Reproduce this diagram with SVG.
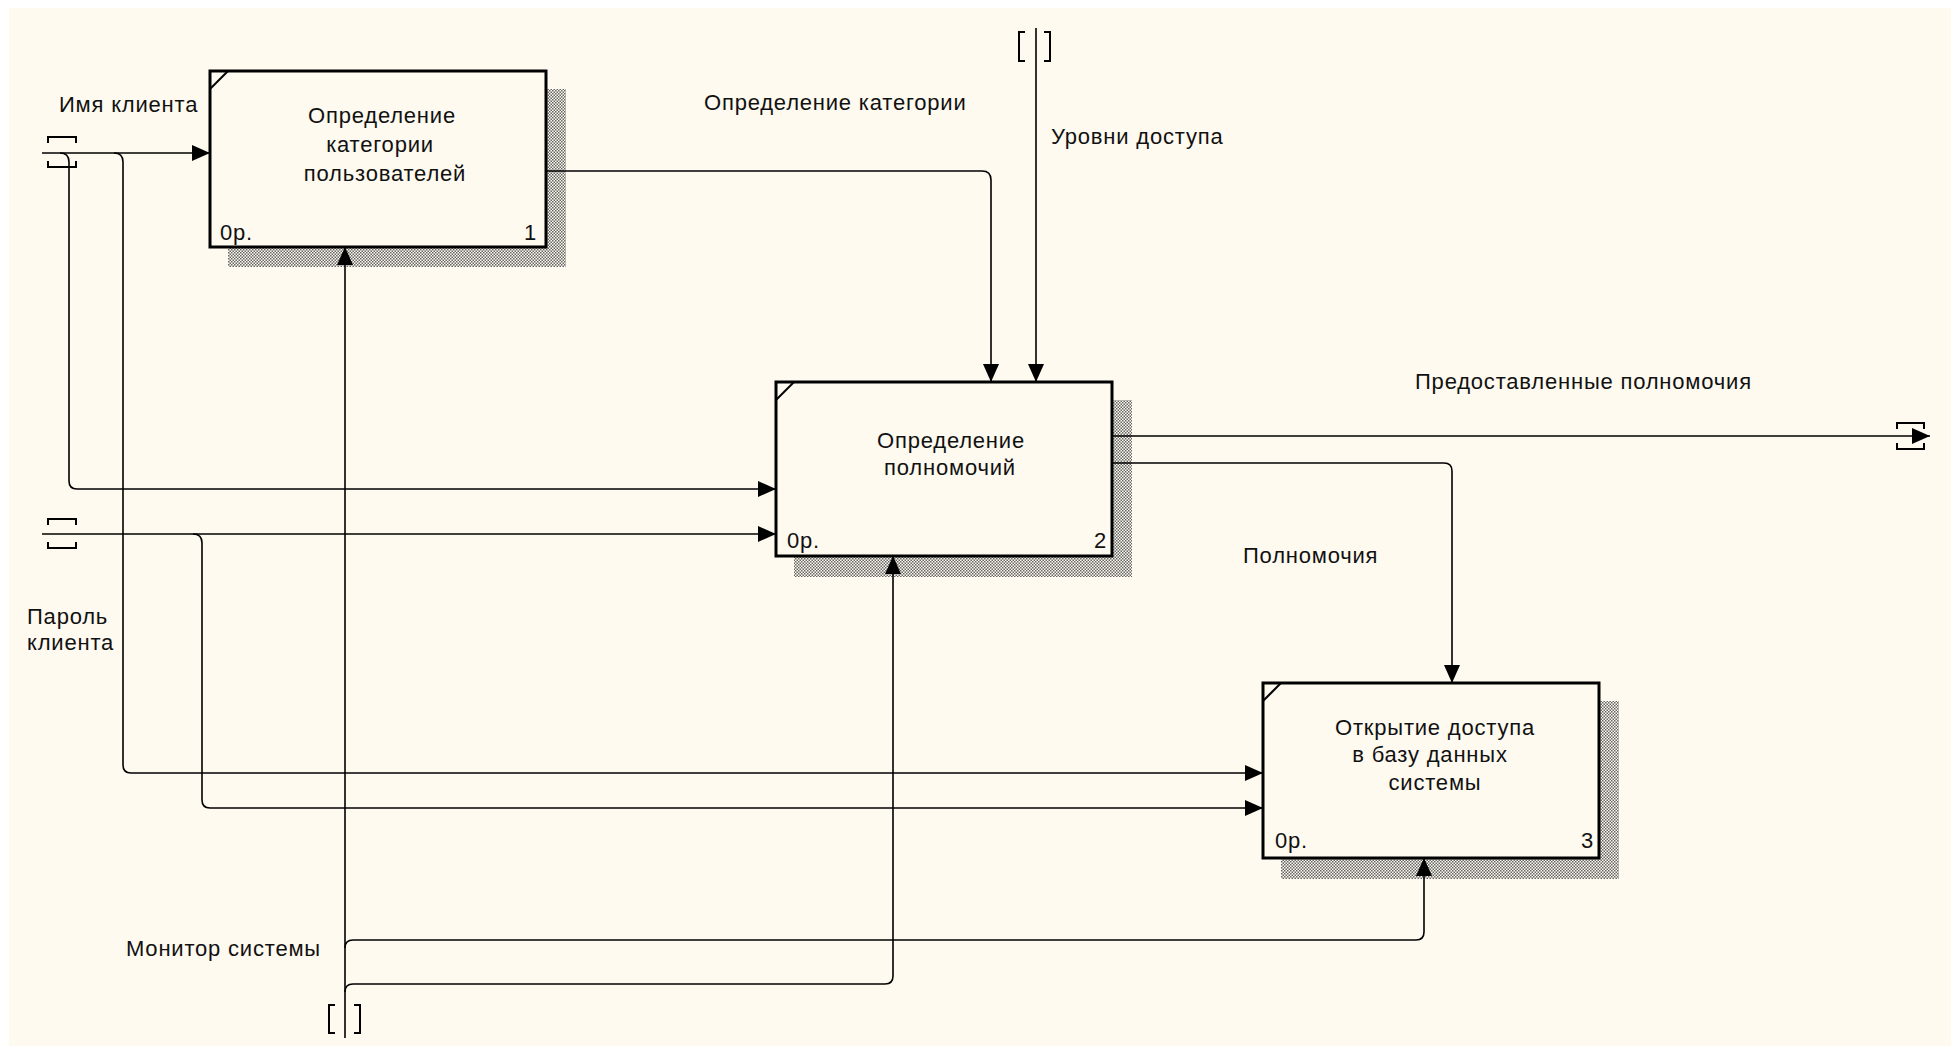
<svg xmlns="http://www.w3.org/2000/svg" width="1959" height="1046" viewBox="0 0 1959 1046">
<style>
.lbl{font-family:"Liberation Sans",Arial,sans-serif;font-size:22px;letter-spacing:0.8px;fill:#111}
.box{fill:#FEFAF0;stroke:#000;stroke-width:3}
.shadow{fill:url(#hatch)}
.corner{stroke:#000;stroke-width:2;fill:none}
.arr{fill:none;stroke:#000;stroke-width:1.6;marker-end:url(#ah)}
.tun{fill:none;stroke:#000;stroke-width:2}
</style>
<defs>
<pattern id="hatch" patternUnits="userSpaceOnUse" width="3" height="3">
<rect width="3" height="3" fill="#FEFAF0"/>
<rect x="0" y="0" width="1.5" height="1.5" fill="#666"/>
<rect x="1.5" y="1.5" width="1.5" height="1.5" fill="#666"/>
</pattern>
<marker id="ah" markerUnits="userSpaceOnUse" markerWidth="20" markerHeight="18" refX="18" refY="8" orient="auto">
<path d="M0,0 L18,8 L0,16 z" fill="#000"/>
</marker>
</defs>
<rect x="0" y="0" width="1959" height="1046" fill="#fff"/>
<rect x="9" y="8" width="1942" height="1038" fill="#FEFAF0"/>

<g id="node1">
<rect class="shadow" x="228" y="89" width="338" height="178"/>
<rect class="box" x="210" y="71" width="336" height="176"/>
<path class="corner" d="M210,89 L228,71"/>
<text class="lbl" x="382" y="123" text-anchor="middle">Определение</text>
<text class="lbl" x="380" y="152" text-anchor="middle">категории</text>
<text class="lbl" x="385" y="181" text-anchor="middle">пользователей</text>
<text class="lbl" x="220" y="240">0р.</text>
<text class="lbl" x="537" y="240" text-anchor="end">1</text>
</g>

<g id="node2">
<rect class="shadow" x="794" y="400" width="338" height="177"/>
<rect class="box" x="776" y="382" width="336" height="174"/>
<path class="corner" d="M776,400 L794,382"/>
<text class="lbl" x="951" y="448" text-anchor="middle">Определение</text>
<text class="lbl" x="950" y="475" text-anchor="middle">полномочий</text>
<text class="lbl" x="787" y="548">0р.</text>
<text class="lbl" x="1107" y="548" text-anchor="end">2</text>
</g>

<g id="node3">
<rect class="shadow" x="1281" y="701" width="338" height="178"/>
<rect class="box" x="1263" y="683" width="336" height="175"/>
<path class="corner" d="M1263,701 L1281,683"/>
<text class="lbl" x="1435" y="735" text-anchor="middle">Открытие доступа</text>
<text class="lbl" x="1430" y="762" text-anchor="middle">в базу данных</text>
<text class="lbl" x="1435" y="790" text-anchor="middle">системы</text>
<text class="lbl" x="1275" y="848">0р.</text>
<text class="lbl" x="1594" y="848" text-anchor="end">3</text>
</g>

<g id="connectors">
<path class="arr" d="M42,153 L210,153"/>
<path class="arr" d="M60,153 Q69,153 69,162 L69,481 Q69,489 77,489 L776,489"/>
<path class="arr" d="M114,153 Q123,153 123,162 L123,765 Q123,773 131,773 L1263,773"/>
<path class="tun" d="M48,143 L48,137 L76,137 L76,143 M48,161 L48,167 L76,167 L76,161"/>
<path class="arr" d="M42,534 L776,534"/>
<path class="arr" d="M193,534 Q202,534 202,543 L202,800 Q202,808 210,808 L1263,808"/>
<path class="tun" d="M48,525 L48,519 L76,519 L76,525 M48,542 L48,548 L76,548 L76,542"/>
<path class="arr" d="M546,171 L982,171 Q991,171 991,180 L991,382"/>
<path class="arr" d="M1036,28 L1036,382"/>
<path class="tun" d="M1025,32 L1019,32 L1019,61 L1025,61 M1044,32 L1050,32 L1050,61 L1044,61"/>
<path class="arr" d="M1112,436 L1930,436"/>
<path class="tun" d="M1897,429 L1897,423 L1924,423 L1924,429 M1897,443 L1897,449 L1924,449 L1924,443"/>
<path class="arr" d="M1112,463 L1444,463 Q1452,463 1452,471 L1452,683"/>
<path class="arr" d="M345,1038 L345,247"/>
<path class="arr" d="M345,948 Q345,940 353,940 L1416,940 Q1424,940 1424,932 L1424,858"/>
<path class="arr" d="M345,992 Q345,984 353,984 L885,984 Q893,984 893,976 L893,556"/>
<path class="tun" d="M335,1005 L329,1005 L329,1033 L335,1033 M354,1005 L360,1005 L360,1033 L354,1033"/>
</g>

<g id="labels">
<text class="lbl" x="59" y="112">Имя клиента</text>
<text class="lbl" x="704" y="110">Определение категории</text>
<text class="lbl" x="1051" y="144">Уровни доступа</text>
<text class="lbl" x="1415" y="389">Предоставленные полномочия</text>
<text class="lbl" x="1243" y="563">Полномочия</text>
<text class="lbl" x="27" y="624">Пароль</text>
<text class="lbl" x="27" y="650">клиента</text>
<text class="lbl" x="126" y="956">Монитор системы</text>
</g>
</svg>
